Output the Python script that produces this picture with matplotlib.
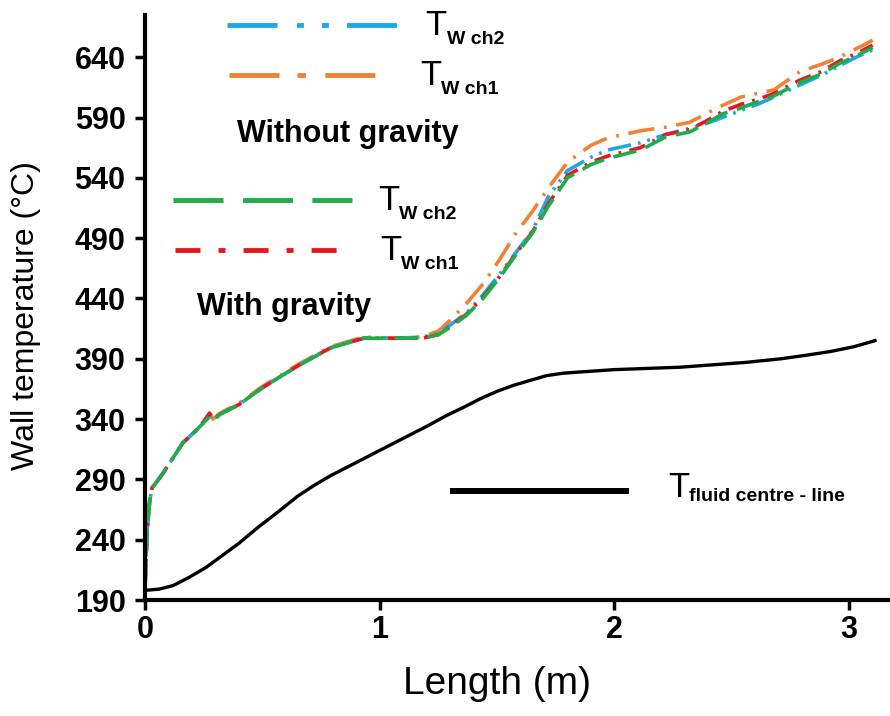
import matplotlib
matplotlib.use("Agg")
import matplotlib.pyplot as plt
from matplotlib.lines import Line2D

plt.rcParams['font.family'] = ['Liberation Sans', 'DejaVu Sans']
plt.rcParams['lines.scale_dashes'] = False

# wall temperature curves (shared x positions, m)
x_wall = [0, 0.005, 0.01, 0.02, 0.03, 0.05, 0.08, 0.12, 0.16, 0.22, 0.25, 0.275, 0.29, 0.32,
          0.40, 0.50, 0.65, 0.79, 0.93, 1.07, 1.18, 1.25, 1.30, 1.37, 1.44, 1.51, 1.58, 1.65,
          1.72, 1.80, 1.90, 1.97, 2.11, 2.22, 2.32, 2.39, 2.46, 2.54, 2.61, 2.68, 2.79, 2.88,
          2.96, 3.03, 3.10]
tw_ch2_grav = [201, 225, 250, 272, 283, 288, 296, 308, 320, 331, 337, 342, 339, 344, 352, 366,
               384, 399, 407, 407, 407, 410, 416, 426, 440, 457, 476, 494, 517, 540, 551, 556,
               563, 574, 578, 585, 593, 598, 603, 608, 619, 626, 635, 641, 648]
tw_ch1_grav = [201, 225, 250, 272, 283, 288, 296, 308, 320, 331, 338, 345, 340, 344, 352, 366,
               384, 399, 407, 407, 407, 410, 417, 427, 441, 458, 477, 495, 519, 542, 553, 558,
               565, 576, 580, 587, 595, 601, 605, 610, 621, 628, 637, 643, 650]
tw_ch2_nograv = [201, 225, 250, 272, 283, 288, 296, 308, 320, 331, 337, 342, 339, 344, 352, 366,
                 384, 399, 407, 407, 408, 411, 418, 428, 443, 460, 478, 496, 525, 546, 557, 563,
                 569, 576, 581, 585, 590, 596, 601, 607, 617, 625, 633, 640, 646]
tw_ch1_nograv = [201, 225, 250, 272, 283, 288, 296, 308, 320, 331, 338, 344, 340, 345, 353, 367,
                 385, 400, 408, 407, 408, 413, 422, 436, 452, 472, 494, 512, 532, 553, 567, 573,
                 579, 582, 586, 593, 600, 607, 610, 613, 628, 634, 640, 647, 654]

# fluid centre-line temperature
x_fluid = [0, 0.06, 0.12, 0.19, 0.26, 0.33, 0.40, 0.48, 0.56, 0.65, 0.72, 0.79, 0.86, 0.93,
           1.0, 1.07, 1.14, 1.21, 1.285, 1.36, 1.43, 1.50, 1.57, 1.64, 1.71, 1.78, 1.85, 2.0,
           2.14, 2.28, 2.42, 2.56, 2.71, 2.82, 2.92, 3.02, 3.11]
t_fluid = [198, 199, 202, 209, 217, 227, 237, 250, 262, 276, 285, 293, 300, 307, 314, 321, 328,
           335, 343, 350, 357, 363, 368, 372, 376, 378, 379, 381, 382, 383, 385, 387, 390, 393,
           396, 400, 405]

yticks = [190, 240, 290, 340, 390, 440, 490, 540, 590, 640]
xticks = [0, 1, 2, 3]

c_blue = '#1ea7e1'
c_orange = '#ee8236'
c_green = '#1fad4b'
c_red = '#e8161b'

W, H = 890, 716
fig = plt.figure(figsize=(W / 100, H / 100), dpi=100)
ax = fig.add_axes([145 / W, 116 / H, 745 / W, 585 / H])

ax.plot(x_wall, tw_ch1_nograv, color=c_orange, lw=2.6, dashes=[19, 7, 2, 7])
ax.plot(x_wall, tw_ch2_nograv, color=c_blue, lw=2.6, dashes=[17, 5, 2, 5, 2, 5])
ax.plot(x_wall, tw_ch1_grav, color=c_red, lw=2.6, dashes=[12, 6, 2, 6])
ax.plot(x_wall, tw_ch2_grav, color=c_green, lw=2.6, dashes=[17, 7])
ax.plot(x_fluid, t_fluid, color='black', lw=2.4)

ax.set_xlim(0, 3.174)
ax.set_ylim(190, 675)
ax.set_xticks(xticks)
ax.set_yticks(yticks)
ax.tick_params(direction='out', length=7, width=2.5, labelsize=22)
ax.tick_params(axis='y', pad=7)
ax.tick_params(axis='x', pad=4)
for lab in ax.get_xticklabels() + ax.get_yticklabels():
    lab.set_fontweight('bold')
for s in ['top', 'right']:
    ax.spines[s].set_visible(False)
for s in ['left', 'bottom']:
    ax.spines[s].set_linewidth(3)

ax.set_xlabel('Length (m)', fontsize=28)
ax.set_ylabel('Wall temperature (°C)', fontsize=23)
ax.xaxis.set_label_coords(0.472, -0.112)
ax.yaxis.set_label_coords(-0.14, 0.487)


def fx(px):
    return px / W


def fy(py):
    return 1 - py / H


# hand drawn legend
legend_lines = [
    (227, 398, 25, c_blue, [36, 14, 5, 13, 5, 13], 3.5),
    (229, 375, 75, c_orange, [36, 13, 6, 14], 3.5),
    (173, 352, 200, c_green, [36, 14], 3.5),
    (175, 340, 250, c_red, [18, 13, 5, 13], 3.5),
    (453, 626, 491, 'black', None, 4.3),
]
for x0, x1, y0, col, dsh, lw in legend_lines:
    ln = Line2D([fx(x0), fx(x1)], [fy(y0), fy(y0)], color=col, lw=lw, transform=fig.transFigure)
    if dsh:
        ln.set_dashes(dsh)
    fig.add_artist(ln)

legend_texts = [
    (425, 35, 447, 44, 'W ch2'),
    (420, 85, 441, 94, 'W ch1'),
    (378, 210, 399, 219, 'W ch2'),
    (380, 260, 401, 269, 'W ch1'),
    (668, 497, 689, 501, 'fluid centre - line'),
]
for tx, ty, sx, sy, sub in legend_texts:
    fig.text(fx(tx), fy(ty), 'T', fontsize=25, va='baseline', ha='left')
    fig.text(fx(sx), fy(sy), sub, fontsize=14, fontweight='bold', va='baseline', ha='left')

fig.text(fx(237), fy(142), 'Without gravity', fontsize=22, fontweight='bold', va='baseline')
fig.text(fx(197), fy(315), 'With gravity', fontsize=22, fontweight='bold', va='baseline')

fig.savefig('out.png', dpi=100)
